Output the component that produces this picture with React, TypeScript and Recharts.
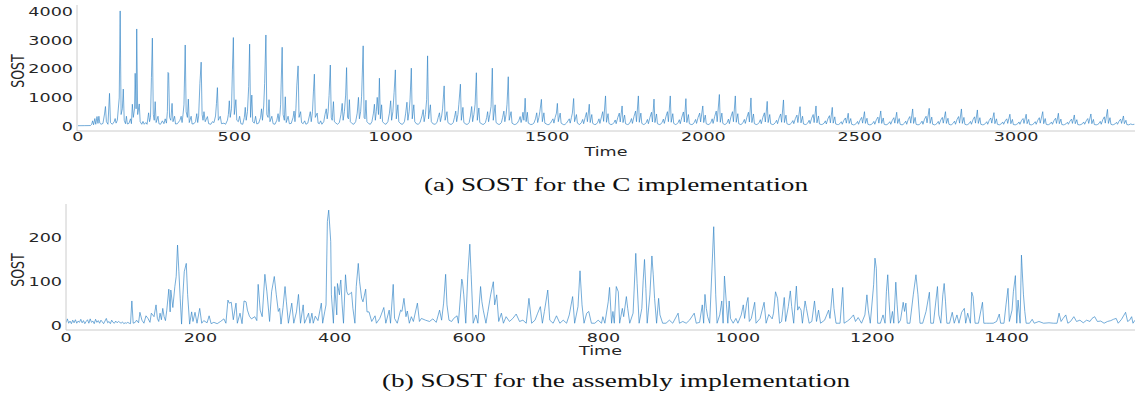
import React from 'react';
import { LineChart, Line, XAxis, YAxis, Label } from 'recharts';

type Pt = [number, number];

// (a) C implementation: [time, SOST] in segments
const cSegA: Pt[] = [
    [0, 10], [20, 12], [40, 15], [44, 60], [47, 180], [50, 40], [54, 260], [57, 60], [61, 330], [64, 90], [67, 340], [70, 100],
    [74, 60], [80, 90], [85, 420], [88, 680], [91, 150], [96, 60], [101, 1140], [104, 120], [110, 60], [116, 150], [119, 260],
    [122, 100], [126, 200], [132, 980], [135, 4020], [138, 400], [142, 600], [145, 1290], [148, 200], [152, 80], [155, 340],
    [158, 70], [163, 90], [168, 250], [171, 80], [174, 760], [177, 300], [181, 600], [183, 1840], [186, 600], [188, 3390],
    [191, 400], [196, 770], [199, 150], [204, 60], [208, 160], [212, 60], [217, 120], [221, 60], [226, 460], [229, 150],
    [232, 300], [235, 1690], [238, 3070], [241, 400], [244, 200], [247, 850], [250, 120], [256, 340], [259, 80], [264, 60],
    [270, 180], [275, 80], [279, 250], [283, 100], [286, 500], [288, 1870], [290, 1840], [293, 300], [297, 200], [301, 790],
    [304, 150], [309, 340], [312, 70], [318, 80], [326, 200], [330, 340], [333, 120], [336, 400], [339, 740], [343, 2830],
    [346, 500], [350, 300], [353, 940], [356, 120], [362, 340], [365, 70], [371, 80], [376, 150], [380, 430], [383, 120],
    [386, 350], [390, 1490], [394, 2230], [397, 400], [400, 200],
];
const cSegB: Pt[] = [
    [403, 500], [407, 150], [414, 330], [418, 80], [425, 60], [430, 150], [435, 120], [440, 350], [443, 790], [446, 1340],
    [449, 200], [455, 340], [459, 80], [467, 100], [472, 60], [478, 200], [481, 400], [484, 880], [487, 300], [491, 600],
    [494, 1960], [497, 3090], [500, 400], [505, 920], [508, 200], [513, 150], [517, 340], [521, 80], [527, 60], [532, 300],
    [535, 650], [538, 200], [542, 500], [546, 1380], [549, 2860], [552, 300], [556, 1080], [559, 150], [564, 100], [568, 340],
    [572, 70], [578, 100], [584, 300], [587, 600], [590, 200], [594, 700], [597, 1490], [601, 3180], [604, 400], [608, 300],
    [611, 920], [614, 150], [620, 340], [624, 80], [630, 60], [636, 200], [640, 430], [643, 150], [646, 400], [648, 740],
    [653, 2750], [656, 400], [660, 200], [663, 1020], [666, 120], [672, 340], [676, 80], [682, 90], [688, 300], [691, 520],
    [694, 150], [697, 600], [700, 1430], [704, 2100], [707, 300], [712, 500], [715, 120], [720, 80], [725, 180], [729, 60],
    [735, 100], [740, 350], [743, 500], [746, 150], [750, 500], [753, 1190], [756, 1810], [759, 300], [765, 450], [768, 100],
    [772, 80], [776, 180], [780, 60], [786, 150], [790, 400], [794, 600], [797, 250],
];
const cSegC: Pt[] = [
    [800, 500], [803, 1060], [807, 2130], [810, 300], [813, 200], [817, 850], [820, 150], [825, 100], [830, 60], [836, 120],
    [841, 400], [845, 790], [848, 200], [852, 500], [856, 1080], [859, 2040], [862, 300], [865, 250], [868, 920], [871, 150],
    [877, 80], [882, 60], [888, 150], [893, 450], [897, 1000], [900, 250], [904, 500], [907, 1040], [912, 2800], [915, 300],
    [918, 250], [921, 900], [924, 150], [930, 80], [935, 60], [940, 150], [945, 450], [948, 760], [951, 200], [954, 500],
    [957, 1000], [961, 400], [964, 1670], [967, 250], [971, 740], [974, 150], [980, 80], [985, 60], [991, 150], [996, 450],
    [1000, 880], [1003, 200], [1007, 500], [1011, 1180], [1015, 1960], [1018, 250], [1023, 740], [1026, 150], [1033, 70],
    [1038, 60], [1044, 150], [1048, 450], [1052, 830], [1055, 200], [1059, 500], [1062, 940], [1066, 2020], [1069, 250],
    [1074, 740], [1077, 150], [1083, 70], [1088, 60], [1094, 120], [1100, 350], [1104, 570], [1107, 150], [1111, 400],
    [1115, 920], [1118, 2450], [1121, 250], [1127, 740], [1130, 150], [1136, 70], [1142, 60], [1148, 120], [1152, 300],
    [1156, 460], [1159, 150], [1163, 350], [1166, 600], [1171, 1400], [1174, 200], [1180, 500], [1183, 120], [1190, 60],
    [1195, 60],
];
const cSegD: Pt[] = [
    [1200, 120], [1204, 300], [1208, 520], [1211, 150], [1215, 400], [1218, 760], [1223, 1460], [1226, 200], [1231, 650],
    [1234, 120], [1241, 60], [1246, 60], [1251, 120], [1255, 350], [1259, 680], [1262, 150], [1266, 400], [1270, 760],
    [1274, 1860], [1277, 200], [1282, 630], [1285, 120], [1293, 60], [1298, 60], [1303, 120], [1307, 300], [1310, 500],
    [1313, 150], [1317, 400], [1321, 680], [1325, 2020], [1328, 200], [1334, 740], [1337, 120], [1344, 60], [1349, 60],
    [1354, 120], [1358, 300], [1362, 520], [1365, 150], [1369, 400], [1372, 760], [1376, 1720], [1379, 200], [1385, 500],
    [1388, 100], [1395, 50], [1400, 60], [1405, 100], [1410, 200], [1414, 330], [1417, 120], [1420, 250], [1423, 480],
    [1426, 200], [1430, 970], [1433, 150], [1437, 480], [1440, 100], [1448, 50], [1453, 60], [1458, 100], [1463, 250],
    [1467, 460], [1470, 120], [1474, 300], [1477, 500], [1482, 930], [1485, 150], [1490, 460], [1493, 100], [1501, 50],
    [1506, 50], [1511, 100], [1515, 180], [1519, 250], [1522, 100], [1526, 300], [1530, 450], [1533, 790], [1536, 150],
    [1542, 450], [1545, 100], [1552, 50], [1557, 50], [1562, 100], [1567, 180], [1571, 250], [1574, 100], [1578, 300],
    [1581, 450], [1585, 960], [1588, 150], [1594, 400], [1597, 100],
];
const cSegE: Pt[] = [
    [1604, 50], [1610, 120], [1614, 230], [1617, 80], [1622, 300], [1626, 470], [1629, 150], [1635, 760], [1638, 120], [1643, 400], [1646, 90], [1652, 50],
    [1657, 60], [1662, 130], [1666, 250], [1669, 90], [1674, 320], [1678, 500], [1681, 160], [1687, 1050], [1690, 130], [1695, 430], [1698, 90], [1704, 50],
    [1709, 60], [1714, 120], [1718, 210], [1721, 80], [1726, 290], [1731, 450], [1734, 140], [1740, 700], [1743, 120], [1748, 380], [1751, 80], [1757, 50],
    [1761, 60], [1766, 140], [1770, 260], [1773, 90], [1778, 330], [1783, 520], [1786, 150], [1792, 1050], [1795, 130], [1800, 450], [1803, 90], [1809, 50],
    [1812, 60], [1817, 120], [1821, 230], [1824, 80], [1829, 300], [1834, 480], [1837, 140], [1842, 940], [1845, 120], [1850, 420], [1853, 80], [1859, 50],
    [1863, 60], [1868, 130], [1872, 240], [1875, 90], [1880, 320], [1885, 500], [1888, 150], [1894, 1050], [1897, 130], [1902, 430], [1905, 90], [1911, 50],
    [1914, 60], [1919, 120], [1923, 220], [1926, 80], [1931, 310], [1936, 490], [1939, 140], [1944, 955], [1947, 120], [1952, 400], [1955, 80], [1961, 50],
    [1966, 60], [1971, 130], [1975, 230], [1978, 90], [1983, 300], [1988, 450], [1991, 140], [1998, 700], [2001, 120], [2006, 380], [2009, 80], [2015, 50],
    [2019, 60], [2024, 130], [2028, 250], [2031, 90], [2036, 330], [2041, 520], [2044, 150], [2051, 1100], [2054, 130], [2059, 450], [2062, 90], [2068, 50],
    [2071, 60], [2076, 120], [2080, 240], [2083, 80], [2088, 320], [2093, 500], [2096, 150], [2102, 1050], [2105, 130], [2110, 430], [2113, 80], [2119, 50],
    [2122, 60], [2127, 130], [2131, 230], [2134, 90], [2139, 300], [2144, 480], [2147, 140], [2152, 980], [2155, 120], [2160, 420], [2163, 80], [2169, 50],
    [2173, 60], [2178, 120], [2182, 220], [2185, 80], [2190, 300], [2195, 460], [2198, 140], [2204, 860], [2207, 120], [2212, 400], [2215, 80], [2221, 50],
];
const cSegF: Pt[] = [
    [2225, 60], [2230, 120], [2234, 200], [2237, 80], [2242, 280], [2247, 420], [2250, 130], [2256, 910], [2259, 120], [2264, 380], [2267, 80], [2273, 50],
    [2277, 60], [2282, 110], [2286, 190], [2289, 80], [2294, 260], [2299, 380], [2302, 120], [2309, 675], [2312, 110], [2317, 340], [2320, 70], [2326, 50],
    [2329, 60], [2334, 110], [2338, 200], [2341, 80], [2346, 270], [2351, 400], [2354, 120], [2360, 700], [2363, 110], [2368, 350], [2371, 70], [2377, 50],
    [2381, 60], [2386, 100], [2390, 180], [2393, 70], [2398, 250], [2403, 360], [2406, 110], [2412, 650], [2415, 100], [2420, 320], [2423, 70], [2429, 50],
    [2432, 50], [2437, 90], [2441, 150], [2444, 60], [2449, 200], [2454, 280], [2457, 100], [2463, 445], [2466, 90], [2471, 260], [2474, 60], [2480, 40],
    [2484, 50], [2489, 90], [2493, 160], [2496, 60], [2501, 210], [2506, 300], [2509, 100], [2515, 500], [2518, 90], [2523, 270], [2526, 60], [2532, 40],
    [2536, 50], [2541, 90], [2545, 160], [2548, 60], [2553, 220], [2558, 310], [2561, 100], [2567, 525], [2570, 90], [2575, 280], [2578, 60], [2584, 40],
    [2587, 50], [2592, 90], [2596, 150], [2599, 60], [2604, 200], [2609, 290], [2612, 100], [2618, 480], [2621, 90], [2626, 260], [2629, 60], [2635, 40],
    [2638, 50], [2643, 100], [2647, 170], [2650, 60], [2655, 230], [2660, 330], [2663, 100], [2669, 595], [2672, 90], [2677, 300], [2680, 60], [2686, 40],
    [2690, 50], [2695, 100], [2699, 170], [2702, 60], [2707, 240], [2712, 340], [2715, 110], [2722, 617], [2725, 90], [2730, 310], [2733, 60], [2739, 40],
    [2742, 50], [2747, 90], [2751, 160], [2754, 60], [2759, 210], [2764, 300], [2767, 100], [2774, 500], [2777, 90], [2782, 270], [2785, 60], [2791, 40],
];
const cSegG: Pt[] = [
    [2794, 50], [2799, 100], [2803, 170], [2806, 60], [2811, 230], [2816, 330], [2819, 100], [2825, 595], [2828, 90], [2833, 300], [2836, 60], [2842, 40],
    [2845, 50], [2850, 90], [2854, 160], [2857, 60], [2862, 220], [2867, 320], [2870, 100], [2876, 560], [2879, 90], [2884, 290], [2887, 60], [2893, 40],
    [2897, 50], [2902, 90], [2906, 150], [2909, 60], [2914, 200], [2919, 280], [2922, 100], [2929, 466], [2932, 80], [2937, 250], [2940, 60], [2946, 40],
    [2948, 50], [2953, 80], [2957, 140], [2960, 60], [2965, 180], [2970, 250], [2973, 90], [2980, 410], [2983, 80], [2988, 230], [2991, 50], [2997, 40],
    [3000, 50], [3005, 80], [3009, 140], [3012, 60], [3017, 190], [3022, 260], [3025, 90], [3032, 410], [3035, 80], [3040, 230], [3043, 50], [3049, 40],
    [3052, 50], [3057, 90], [3061, 150], [3064, 60], [3069, 200], [3074, 290], [3077, 100], [3085, 500], [3088, 80], [3093, 260], [3096, 60], [3102, 40],
    [3104, 50], [3109, 80], [3113, 140], [3116, 60], [3121, 190], [3126, 270], [3129, 90], [3135, 445], [3138, 80], [3143, 240], [3146, 50], [3152, 40],
    [3155, 50], [3160, 80], [3164, 130], [3167, 60], [3172, 170], [3177, 240], [3180, 90], [3186, 385], [3189, 80], [3194, 220], [3197, 50], [3203, 40],
    [3207, 50], [3212, 80], [3216, 140], [3219, 60], [3224, 180], [3229, 260], [3232, 90], [3239, 420], [3242, 80], [3247, 230], [3250, 50], [3256, 40],
    [3260, 50], [3265, 90], [3269, 160], [3272, 60], [3277, 220], [3282, 320], [3285, 100], [3292, 580], [3295, 90], [3300, 290], [3303, 60], [3309, 40],
    [3312, 50], [3317, 80], [3321, 130], [3324, 60], [3329, 170], [3334, 240], [3337, 90], [3343, 350], [3346, 80], [3351, 200], [3354, 50], [3360, 40],
    [3366, 70], [3372, 50], [3378, 60],
];

// (b) assembly implementation
const asmSeg1: Pt[] = [
    [0, 5], [2, 14], [4, 4], [6, 9], [8, 3], [10, 11], [12, 5], [14, 12], [16, 4], [18, 9], [20, 6], [22, 13], [24, 5], [26, 10],
    [28, 3], [30, 8], [32, 12], [34, 4], [36, 14], [38, 6], [40, 9], [42, 3], [44, 13], [46, 6], [48, 10], [50, 4], [52, 11],
    [54, 7], [56, 3], [58, 9], [60, 15], [62, 5], [64, 8], [66, 3], [68, 11], [70, 6], [72, 4], [74, 9], [76, 5], [78, 8],
    [80, 6], [82, 4], [84, 7], [86, 3], [88, 5], [90, 4], [92, 6], [94, 4], [96, 3], [98, 55], [100, 4], [103, 6], [105, 11],
    [108, 5], [110, 29], [113, 11], [116, 4], [119, 21], [122, 15], [125, 6], [127, 27], [131, 19], [134, 46], [136, 15],
    [138, 8], [140, 27], [142, 12], [144, 38], [146, 19], [148, 10], [150, 34], [153, 82], [155, 30], [156, 80], [159, 40],
    [162, 88], [164, 111], [166, 183], [168, 122], [170, 60], [172, 2], [174, 69], [176, 122], [179, 141], [181, 70], [184, 2],
    [187, 30], [189, 8], [192, 29], [195, 4], [199, 38], [202, 4],
];
const asmSeg2: Pt[] = [
    [205, 10], [210, 5], [213, 21], [216, 3], [220, 6], [225, 3], [230, 8], [235, 14], [238, 4], [241, 57], [243, 50], [246, 52],
    [249, 12], [253, 50], [255, 4], [259, 27], [262, 3], [265, 55], [268, 53], [270, 34], [273, 20], [276, 14], [281, 19],
    [284, 10], [286, 93], [289, 34], [292, 19], [296, 116], [299, 76], [303, 8], [306, 76], [310, 111], [313, 69], [316, 31],
    [318, 38], [320, 2], [323, 40], [326, 88], [328, 53], [331, 4], [336, 50], [339, 4], [343, 30], [346, 70], [349, 4],
    [353, 46], [355, 4], [358, 15], [361, 27], [363, 4], [366, 27], [368, 4], [371, 20], [375, 10], [380, 50], [382, 4],
    [385, 30], [387, 46], [389, 237], [391, 263], [394, 191], [395, 69], [398, 4],
];
const asmSeg3: Pt[] = [
    [400, 88], [403, 23], [404, 95], [407, 69], [408, 92], [409, 103], [411, 46], [413, 4], [416, 115], [418, 76], [420, 69],
    [423, 72], [425, 75], [427, 38], [430, 4], [432, 88], [435, 141], [437, 99], [440, 61], [442, 53], [446, 82], [448, 30],
    [451, 30], [455, 8], [460, 21], [462, 4], [467, 15], [469, 23], [473, 40], [476, 4], [481, 34], [483, 4], [487, 93],
    [489, 15], [493, 4], [498, 34], [500, 31], [503, 61], [506, 19], [508, 32], [511, 4], [514, 19], [517, 8], [523, 50],
    [526, 8], [529, 15], [535, 11], [541, 8], [546, 14], [551, 6], [556, 34], [559, 11], [562, 50], [565, 116], [567, 46],
    [570, 11], [574, 8], [577, 15], [582, 21], [584, 4], [589, 105], [590, 100], [592, 69], [595, 4], [598, 115],
];
const asmSeg4: Pt[] = [
    [601, 185], [603, 115], [606, 4], [610, 23], [613, 4], [617, 88], [619, 53], [621, 34], [625, 4], [628, 31], [632, 69],
    [636, 99], [638, 46], [641, 69], [644, 8], [648, 27], [651, 4], [655, 19], [660, 8], [665, 15], [670, 25], [675, 8],
    [680, 11], [685, 4], [689, 61], [693, 4], [698, 11], [702, 27], [706, 42], [709, 4], [712, 31], [717, 80], [720, 11],
    [725, 4], [730, 21], [735, 4], [740, 11], [745, 4], [749, 23], [754, 65], [757, 4], [762, 42], [765, 124], [768, 46],
    [771, 4], [775, 27], [778, 31], [782, 4], [787, 4], [792, 11], [797, 4], [799, 19],
];
const asmSeg5: Pt[] = [
    [802, 4], [807, 53], [809, 86], [812, 4], [814, 31], [816, 4], [819, 88], [822, 76], [824, 4], [828, 38], [830, 19],
    [834, 65], [836, 38], [839, 4], [844, 27], [848, 164], [850, 95], [853, 4], [857, 38], [859, 101], [861, 150], [863, 84],
    [865, 4], [869, 69], [872, 158], [874, 115], [876, 61], [879, 4], [882, 61], [884, 23], [888, 4], [893, 4], [898, 11],
    [903, 4], [911, 27], [913, 4], [918, 8], [923, 4], [928, 11], [935, 27], [938, 4], [943, 6], [947, 46], [949, 4],
    [951, 70], [953, 38], [955, 19], [958, 4], [964, 225], [967, 69], [969, 4], [973, 23], [976, 55], [978, 4], [980, 112],
    [983, 46], [985, 4], [987, 55], [989, 15], [993, 4], [997, 15],
];
const asmSeg6: Pt[] = [
    [1000, 4], [1005, 23], [1008, 46], [1010, 15], [1013, 50], [1015, 63], [1017, 8], [1020, 15], [1025, 52], [1027, 4],
    [1033, 15], [1039, 52], [1042, 4], [1046, 24], [1051, 14], [1053, 27], [1056, 76], [1059, 61], [1062, 4], [1065, 8],
    [1069, 63], [1071, 8], [1075, 42], [1078, 78], [1080, 42], [1083, 4], [1087, 89], [1089, 34], [1091, 42], [1094, 34],
    [1096, 4], [1100, 55], [1102, 38], [1106, 4], [1110, 8], [1114, 55], [1117, 8], [1120, 34], [1123, 4], [1129, 11],
    [1135, 34], [1137, 15], [1141, 84], [1143, 38], [1146, 4], [1152, 4], [1156, 86], [1158, 4], [1163, 9], [1167, 14],
    [1172, 23], [1175, 8], [1179, 17], [1184, 4], [1189, 23], [1192, 69], [1194, 34], [1197, 4], [1202, 92], [1204, 153],
    [1206, 130], [1208, 4],
];
const asmSeg7: Pt[] = [
    [1212, 4], [1216, 23], [1219, 4], [1221, 76], [1223, 115], [1225, 53], [1227, 4], [1230, 31], [1232, 4], [1235, 98],
    [1237, 46], [1239, 4], [1242, 11], [1246, 52], [1248, 31], [1250, 50], [1252, 4], [1256, 4], [1261, 69], [1265, 115],
    [1268, 69], [1271, 4], [1275, 4], [1280, 31], [1285, 75], [1287, 4], [1291, 4], [1297, 88], [1299, 23], [1302, 4],
    [1305, 69], [1307, 95], [1309, 53], [1311, 4], [1315, 4], [1319, 29], [1322, 4], [1326, 23], [1329, 4], [1333, 29],
    [1337, 38], [1339, 4], [1342, 27], [1346, 4], [1348, 75], [1350, 65], [1353, 4], [1358, 4], [1364, 52], [1366, 4],
    [1370, 4], [1375, 4], [1380, 4], [1385, 8], [1389, 25], [1391, 4], [1396, 4], [1399, 46], [1402, 84], [1404, 8],
    [1408, 34], [1410, 76], [1413, 113], [1415, 4], [1417, 57], [1420, 4], [1422, 160], [1425, 69], [1427, 31], [1429, 4],
    [1434, 4], [1438, 13], [1441, 4], [1448, 8], [1455, 4], [1463, 5], [1470, 4], [1475, 4], [1478, 27], [1481, 8],
    [1484, 15], [1488, 23], [1491, 4], [1495, 8], [1500, 19], [1504, 8], [1509, 11], [1514, 5], [1519, 11], [1524, 8],
    [1527, 15], [1531, 19], [1535, 8], [1540, 9], [1545, 4], [1550, 8], [1555, 10], [1559, 13], [1563, 15], [1566, 4],
    [1571, 13], [1577, 29], [1580, 8], [1583, 11], [1586, 19], [1588, 4], [1591, 11],
];

const cTicksX = [0, 500, 1000, 1500, 2000, 2500, 3000];
const cTicksY = [0, 1000, 2000, 3000, 4000];
const asmTicksX = [0, 200, 400, 600, 800, 1000, 1200, 1400];
const asmTicksY = [0, 100, 200];

const toRows = (segs: Pt[][]) => segs.flat().map(([t, v]) => ({ t, v }));
const cData = toRows([cSegA, cSegB, cSegC, cSegD, cSegE, cSegF, cSegG]);
const asmData = toRows([asmSeg1, asmSeg2, asmSeg3, asmSeg4, asmSeg5, asmSeg6, asmSeg7]);

// the figure was stretched sideways, so every label is too
const STRETCH = 1.35;
const FONT = "'DejaVu Sans', sans-serif";
const LINE = '#3486c6';
const AXIS = '#cccccc';

const xTick = (dy: number) => (props: any) => (
    <g transform={`translate(${props.x},${props.y})`}>
        <text transform={`scale(${STRETCH},1)`} y={dy} textAnchor="middle" fontSize={13} fontFamily={FONT} fill="#262626">
            {props.payload.value}
        </text>
    </g>
);

const yTick = (props: any) => (
    <g transform={`translate(${props.x - 4},${props.y})`}>
        <text transform={`scale(${STRETCH},1)`} y={4.6} textAnchor="end" fontSize={13} fontFamily={FONT} fill="#262626">
            {props.payload.value}
        </text>
    </g>
);

const timeLabel = (props: any) => {
    const vb = props.viewBox;
    return (
        <text
            transform={`translate(${vb.x + vb.width / 2},${vb.y + 25}) scale(${STRETCH},1)`}
            textAnchor="middle"
            fontSize={13}
            fontFamily={FONT}
            fill="#262626"
        >
            Time
        </text>
    );
};

const sostLabel = (props: any) => {
    const vb = props.viewBox;
    return (
        <text
            transform={`translate(24,${vb.y + vb.height / 2 + 3}) scale(${STRETCH},1) rotate(-90)`}
            textAnchor="middle"
            fontSize={12.5}
            fontFamily={FONT}
            fill="#262626"
        >
            SOST
        </text>
    );
};

interface PanelProps {
    data: { t: number; v: number }[];
    top: number;
    marginTop: number;
    height: number;
    axisHeight: number;
    yWidth: number;
    xDomain: [number, number];
    yDomain: [number, number];
    xTicks: number[];
    yTicks: number[];
    tickDy: number;
}

function Panel({ data, top, marginTop, height, axisHeight, yWidth, xDomain, yDomain, xTicks, yTicks, tickDy }: PanelProps) {
    return (
        <div style={{ position: 'absolute', left: 0, top }}>
            <LineChart width={1137} height={height} data={data} margin={{ top: marginTop, right: 2, left: 0, bottom: 0 }}>
                <XAxis
                    xAxisId="top"
                    orientation="top"
                    dataKey="t"
                    type="number"
                    domain={xDomain}
                    allowDataOverflow
                    height={0}
                    tick={false}
                    tickLine={false}
                    axisLine={{ stroke: '#e2e2e2' }}
                />
                <XAxis
                    dataKey="t"
                    type="number"
                    domain={xDomain}
                    allowDataOverflow
                    ticks={xTicks}
                    interval={0}
                    height={axisHeight}
                    tickSize={0}
                    tickMargin={0}
                    tickLine={false}
                    axisLine={{ stroke: AXIS }}
                    tick={xTick(tickDy)}
                >
                    <Label content={timeLabel} />
                </XAxis>
                <YAxis
                    type="number"
                    domain={yDomain}
                    allowDataOverflow
                    ticks={yTicks}
                    interval={0}
                    width={yWidth}
                    tickSize={0}
                    tickMargin={0}
                    tickLine={false}
                    axisLine={{ stroke: AXIS }}
                    tick={yTick}
                >
                    <Label content={sostLabel} />
                </YAxis>
                <Line
                    type="linear"
                    dataKey="v"
                    stroke={LINE}
                    strokeWidth={0.8}
                    strokeOpacity={0.85}
                    dot={false}
                    activeDot={false}
                    isAnimationActive={false}
                />
            </LineChart>
        </div>
    );
}

const captionStyle = {
    fontFamily: "'Liberation Serif', 'DejaVu Serif', serif",
    fontSize: 18,
    fill: '#111',
};

export default function App() {
    return (
        <div style={{ position: 'absolute', left: 0, top: 0, width: 1137, height: 400, background: '#fff', overflow: 'hidden' }}>
            <Panel
                data={cData}
                top={0}
                marginTop={5}
                height={170}
                axisHeight={39}
                yWidth={77}
                xDomain={[-3, 3380]}
                yDomain={[-175, 4227]}
                xTicks={cTicksX}
                yTicks={cTicksY}
                tickDy={10.3}
            />
            <Panel
                data={asmData}
                top={195}
                marginTop={9}
                height={170}
                axisHeight={35}
                yWidth={66}
                xDomain={[0, 1591]}
                yDomain={[-11.5, 277]}
                xTicks={asmTicksX}
                yTicks={asmTicksY}
                tickDy={11.7}
            />
            <svg width={1137} height={400} style={{ position: 'absolute', left: 0, top: 0, pointerEvents: 'none' }}>
                <text x={424} y={191} textLength={384} lengthAdjust="spacingAndGlyphs" style={captionStyle}>
                    (a) SOST for the C implementation
                </text>
                <text x={382} y={387} textLength={468} lengthAdjust="spacingAndGlyphs" style={captionStyle}>
                    (b) SOST for the assembly implementation
                </text>
            </svg>
        </div>
    );
}
